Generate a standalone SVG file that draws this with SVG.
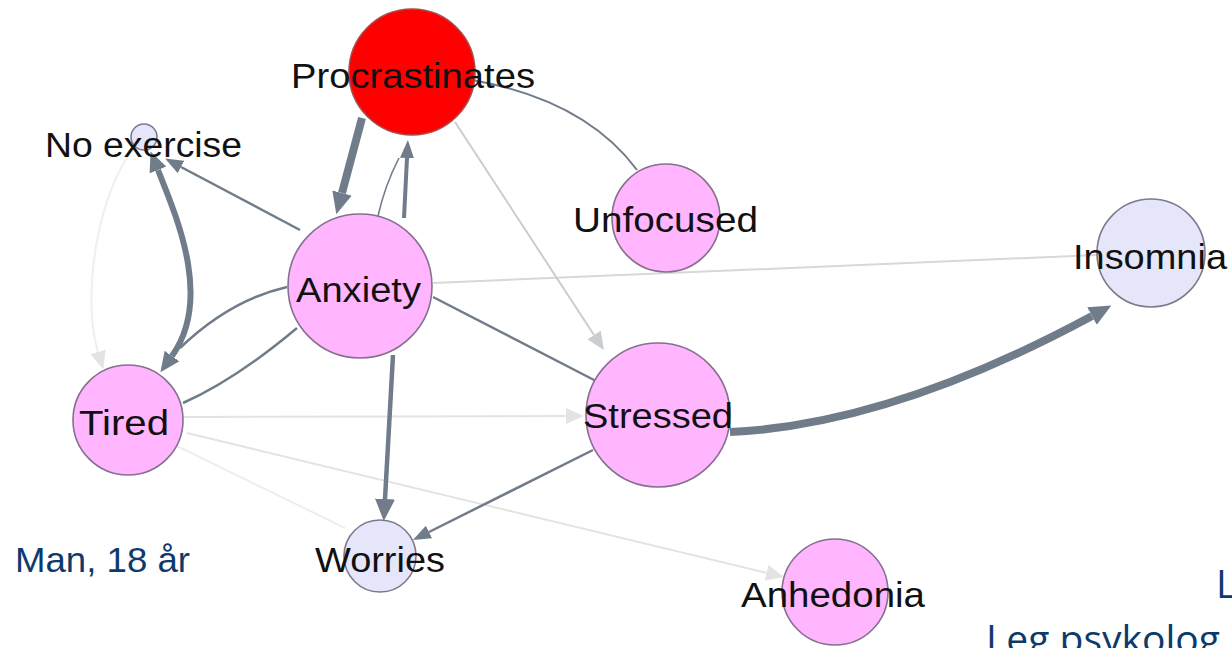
<svg xmlns="http://www.w3.org/2000/svg" width="1232" height="648" viewBox="0 0 1232 648">
<style>
.e{fill:none;stroke:#717c8b;stroke-linecap:butt}
.lt{fill:none;stroke:#c9cdd2}
.ft{fill:none;stroke:#e3e3e3}
.pk{fill:#ffb6ff;stroke:#85708f;stroke-width:1.6}
.lv{fill:#e6e6fa;stroke:#7d7a8c;stroke-width:1.6}
.rd{fill:#ff0000;stroke:#a64c4c;stroke-width:1.6}
.lb{font-family:"Liberation Sans",Arial,sans-serif;font-size:35px;fill:#111}
.ft2{font-family:"Liberation Sans",Arial,sans-serif;font-size:35px;fill:#0d3a6c}
.os{font-family:"Open Sans","Liberation Sans",sans-serif;font-size:39px;fill:#0d3a6c}
</style>
<defs>
<marker id="aBig" viewBox="0 0 22 20" refX="0" refY="10" markerWidth="22" markerHeight="20" markerUnits="userSpaceOnUse" orient="auto"><path d="M0,0 L22,10 L0,20 Z" fill="#717c8b"/></marker>
<marker id="aBigR" viewBox="0 0 20 18" refX="0" refY="9" markerWidth="20" markerHeight="18" markerUnits="userSpaceOnUse" orient="auto-start-reverse"><path d="M0,0 L20,9 L0,18 Z" fill="#717c8b"/></marker>
<marker id="aMed" viewBox="0 0 18 14" refX="0" refY="7" markerWidth="18" markerHeight="14" markerUnits="userSpaceOnUse" orient="auto"><path d="M0,0 L18,7 L0,14 Z" fill="#717c8b"/></marker>
<marker id="aSmR" viewBox="0 0 14 12" refX="0" refY="6" markerWidth="14" markerHeight="12" markerUnits="userSpaceOnUse" orient="auto-start-reverse"><path d="M0,0 L14,6 L0,12 Z" fill="#717c8b"/></marker>
<marker id="aLight" viewBox="0 0 18 16" refX="0" refY="8" markerWidth="18" markerHeight="16" markerUnits="userSpaceOnUse" orient="auto"><path d="M0,0 L18,8 L0,16 Z" fill="#c9cdd2"/></marker>
<marker id="aFaint" viewBox="0 0 18 16" refX="0" refY="8" markerWidth="18" markerHeight="16" markerUnits="userSpaceOnUse" orient="auto"><path d="M0,0 L18,8 L0,16 Z" fill="#e3e3e3"/></marker>
</defs>
<rect width="1232" height="648" fill="#ffffff"/>
<g id="connectors">
<path class="ft" stroke-width="2" d="M134,148 C96,195 82,300 98,352" marker-end="url(#aFaint)" style="stroke:#efefef"/>
<path class="ft" stroke-width="2" d="M177,446 L345,528" style="stroke:#eeeeee"/>
<path class="ft" stroke-width="2" d="M183,417 L566,416" marker-end="url(#aFaint)"/>
<path class="ft" stroke-width="2" d="M187,433 L766.5,572.8" marker-end="url(#aFaint)"/>
<path class="ft" stroke-width="2" d="M433,283 L1097,255" style="stroke:#d8d8d8"/>
<path class="lt" stroke-width="2" d="M455,122 L594,335" marker-end="url(#aLight)"/>
<path class="e" stroke-width="2" d="M472,80 Q585,100 637,170" marker-start="url(#aSmR)"/>
<path class="e" stroke-width="8" d="M362,118 L342,193" marker-end="url(#aBig)"/>
<path class="e" stroke-width="4" d="M404,218 L407,158" marker-end="url(#aMed)"/>
<path class="e" stroke-width="1.6" d="M378,216 Q385,185 399,158"/>
<path class="e" stroke-width="2.5" d="M300,230 L181,167" marker-end="url(#aMed)"/>
<path class="e" stroke-width="6" d="M158,170 C178,220 212,300 172,356" marker-start="url(#aBigR)" marker-end="url(#aBigR)"/>
<path class="e" stroke-width="2.5" d="M287,287 Q230,300 180,348"/>
<path class="e" stroke-width="2.5" d="M183,403 Q235,380 297,328"/>
<path class="e" stroke-width="2.5" d="M433,297 L596,381"/>
<path class="e" stroke-width="2.5" d="M593,450 L429,532" marker-end="url(#aMed)"/>
<path class="e" stroke-width="4.5" d="M393,355 L385,499" marker-end="url(#aBig)"/>
<path class="e" stroke-width="8" d="M730,432 Q890,425 1092,316" marker-end="url(#aBig)"/>
</g>
<g id="node-procrastinates"><circle class="rd" cx="412" cy="72" r="63"/><text class="lb" x="291" y="88" textLength="244" lengthAdjust="spacingAndGlyphs">Procrastinates</text></g>
<g id="node-noexercise"><circle class="lv" cx="144" cy="137" r="13"/><text class="lb" x="45" y="157" textLength="197" lengthAdjust="spacingAndGlyphs">No exercise</text></g>
<g id="node-unfocused"><circle class="pk" cx="666" cy="218" r="54"/><text class="lb" x="573" y="232" textLength="185" lengthAdjust="spacingAndGlyphs">Unfocused</text></g>
<g id="node-anxiety"><circle class="pk" cx="360" cy="286" r="72"/><text class="lb" x="296" y="302" textLength="125" lengthAdjust="spacingAndGlyphs">Anxiety</text></g>
<g id="node-insomnia"><circle class="lv" cx="1151" cy="253" r="54"/><text class="lb" x="1073" y="269" textLength="154" lengthAdjust="spacingAndGlyphs">Insomnia</text></g>
<g id="node-tired"><circle class="pk" cx="128" cy="420" r="55"/><text class="lb" x="79" y="435" textLength="90" lengthAdjust="spacingAndGlyphs">Tired</text></g>
<g id="node-stressed"><circle class="pk" cx="658" cy="415" r="72"/><text class="lb" x="583" y="428" textLength="150" lengthAdjust="spacingAndGlyphs">Stressed</text></g>
<g id="node-worries"><circle class="lv" cx="380" cy="556" r="36"/><text class="lb" x="315" y="572" textLength="130" lengthAdjust="spacingAndGlyphs">Worries</text></g>
<g id="node-anhedonia"><circle class="pk" cx="835" cy="592" r="53"/><text class="lb" x="741" y="607" textLength="184" lengthAdjust="spacingAndGlyphs">Anhedonia</text></g>
<text class="ft2" x="15" y="572" textLength="175" lengthAdjust="spacingAndGlyphs">Man, 18 år</text>
<text class="os" x="1216" y="598">L</text>
<text class="os" x="986" y="653">Leg psykolog</text>
</svg>
